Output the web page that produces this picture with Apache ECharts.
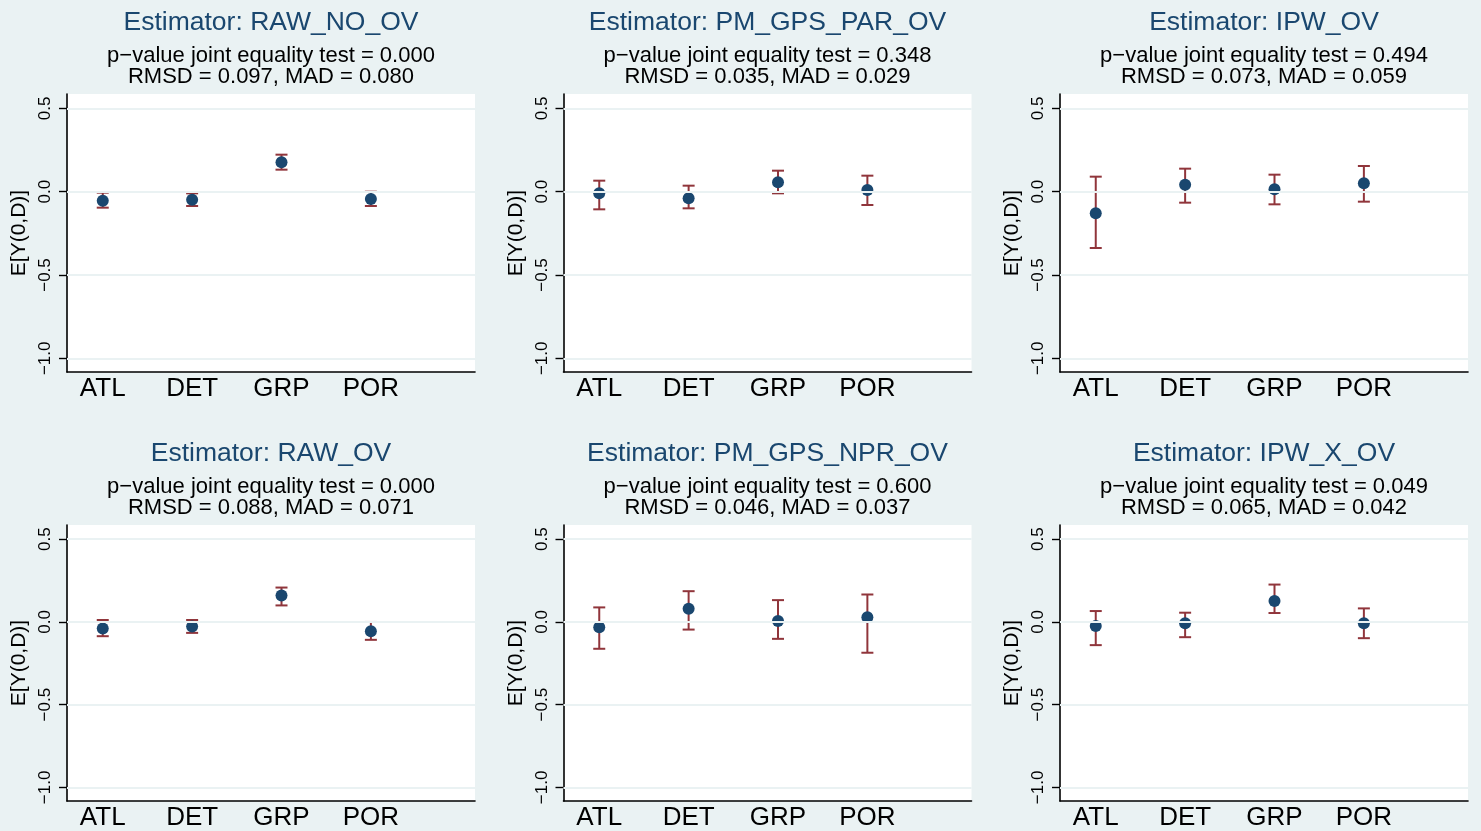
<!DOCTYPE html>
<html>
<head>
<meta charset="utf-8">
<script src="https://cdn.jsdelivr.net/npm/echarts@6/dist/echarts.min.js"></script>
<style>
  html, body { margin: 0; padding: 0; background: #eaf2f3; }
  #chart { width: 1481px; height: 831px; }
</style>
</head>
<body>
<div id="chart"></div>
<script>
// ---- data ----
const categories = ['ATL', 'DET', 'GRP', 'POR'];
const estimators = ['RAW_NO_OV', 'PM_GPS_PAR_OV', 'IPW_OV', 'RAW_OV', 'PM_GPS_NPR_OV', 'IPW_X_OV'];
const pValues = ['0.000', '0.348', '0.494', '0.000', '0.600', '0.049'];
const rmsdValues = ['0.097', '0.035', '0.073', '0.088', '0.046', '0.065'];
const madValues = ['0.080', '0.029', '0.059', '0.071', '0.037', '0.042'];
const yTickValues = [-1.0, -0.5, 0.0, 0.5];

const estRawNoOv = [-0.054, -0.048, 0.176, -0.044];
const loRawNoOv = [-0.096, -0.086, 0.132, -0.086];
const hiRawNoOv = [-0.006, -0.010, 0.222, 0.000];

const estPmGpsPar = [-0.010, -0.040, 0.056, 0.010];
const loPmGpsPar = [-0.106, -0.100, -0.010, -0.080];
const hiPmGpsPar = [0.066, 0.036, 0.126, 0.096];

const estIpw = [-0.130, 0.042, 0.014, 0.050];
const loIpw = [-0.338, -0.066, -0.076, -0.060];
const hiIpw = [0.090, 0.138, 0.102, 0.154];

const estRawOv = [-0.040, -0.028, 0.160, -0.056];
const loRawOv = [-0.086, -0.066, 0.100, -0.108];
const hiRawOv = [0.012, 0.012, 0.208, 0.000];

const estPmGpsNpr = [-0.032, 0.080, 0.006, 0.028];
const loPmGpsNpr = [-0.162, -0.046, -0.102, -0.186];
const hiPmGpsNpr = [0.088, 0.186, 0.132, 0.166];

const estIpwX = [-0.024, -0.008, 0.126, -0.008];
const loIpwX = [-0.140, -0.092, 0.054, -0.098];
const hiIpwX = [0.066, 0.056, 0.226, 0.082];

const panelEst = [estRawNoOv, estPmGpsPar, estIpw, estRawOv, estPmGpsNpr, estIpwX];
const panelLo = [loRawNoOv, loPmGpsPar, loIpw, loRawOv, loPmGpsNpr, loIpwX];
const panelHi = [hiRawNoOv, hiPmGpsPar, hiIpw, hiRawOv, hiPmGpsNpr, hiIpwX];

// ---- styling / layout ----
const FONT = 'Liberation Sans, Arial, Helvetica, sans-serif';
const BG = '#eaf2f3';
const TITLE_COLOR = '#1a476f';
const POINT_COLOR = '#1a476f';
const BAR_COLOR = '#90353b';
const gridLefts = [67, 563.5, 1060];
const gridTops = [94, 525];
const GRID_W = 408;
const GRID_H = 278;

const fmtNum = v => (v < 0 ? '\u2212' : '') + Math.abs(v).toFixed(1);

const grids = [], xAxes = [], yAxes = [], titles = [], series = [];
for (let i = 0; i < 6; i++) {
  const c = i % 3, r = Math.floor(i / 3);
  const left = gridLefts[c], top = gridTops[r];
  const cx = left + GRID_W / 2;
  grids.push({
    left: left, top: top, width: GRID_W, height: GRID_H,
    show: true, backgroundColor: '#ffffff', borderWidth: 0, containLabel: false
  });
  xAxes.push({
    type: 'value', gridIndex: i, min: 0.6, max: 5.165,
    axisLine: { show: true, onZero: false, lineStyle: { color: '#000', width: 1.6 } },
    axisTick: { show: false },
    splitLine: { show: false },
    axisLabel: {
      show: true, customValues: [1, 2, 3, 4], margin: 4,
      formatter: v => categories[Math.round(v) - 1] || '',
      color: '#000', fontSize: 26, fontFamily: FONT
    }
  });
  yAxes.push({
    type: 'value', gridIndex: i, min: -1.082, max: 0.586,
    name: 'E[Y(0,D)]', nameLocation: 'middle', nameRotate: 90, nameGap: 37,
    nameTextStyle: { color: '#000', fontSize: 21, fontFamily: FONT },
    axisLine: { show: true, onZero: false, lineStyle: { color: '#000', width: 1.6 } },
    axisTick: { show: true, customValues: yTickValues, length: 8, lineStyle: { color: '#000', width: 1.4 } },
    splitLine: { show: false },
    axisLabel: {
      show: true, customValues: yTickValues, rotate: 90, margin: 13,
      formatter: fmtNum, color: '#000', fontSize: 17, fontFamily: FONT
    }
  });
  titles.push({
    text: 'Estimator: ' + estimators[i],
    left: cx, top: 9 + r * 431, textAlign: 'center', padding: 0,
    textStyle: { color: TITLE_COLOR, fontSize: 26.5, fontWeight: 'normal', fontFamily: FONT }
  });
  titles.push({
    text: 'p\u2212value joint equality test = ' + pValues[i] + '\nRMSD = ' + rmsdValues[i] + ', MAD = ' + madValues[i],
    left: cx, top: 45 + r * 431, textAlign: 'center', padding: 0,
    textStyle: { color: '#000', fontSize: 22, lineHeight: 21, fontWeight: 'normal', fontFamily: FONT }
  });
  // grid lines
  series.push({
    type: 'line', xAxisIndex: i, yAxisIndex: i, data: [], z: 1, silent: true,
    markLine: {
      silent: true, symbol: 'none', animation: false,
      label: { show: false },
      lineStyle: { color: BG, width: 2, type: 'solid' },
      data: yTickValues.map(v => ({ yAxis: v }))
    }
  });
  // confidence intervals
  series.push({
    type: 'custom', xAxisIndex: i, yAxisIndex: i, z: 2, silent: true,
    encode: { x: 0, y: [1, 2] },
    data: categories.map((_, k) => [k + 1, panelLo[i][k], panelHi[i][k]]),
    renderItem: function (params, api) {
      const x = api.value(0);
      const top = api.coord([x, api.value(2)]);
      const bot = api.coord([x, api.value(1)]);
      const hw = 6;
      const st = { stroke: BAR_COLOR, lineWidth: 2 };
      return {
        type: 'group',
        children: [
          { type: 'line', shape: { x1: top[0], y1: top[1], x2: bot[0], y2: bot[1] }, style: st },
          { type: 'line', shape: { x1: top[0] - hw, y1: top[1], x2: top[0] + hw, y2: top[1] }, style: st },
          { type: 'line', shape: { x1: bot[0] - hw, y1: bot[1], x2: bot[0] + hw, y2: bot[1] }, style: st }
        ]
      };
    }
  });
  // point estimates
  series.push({
    type: 'scatter', xAxisIndex: i, yAxisIndex: i, z: 3, silent: true,
    symbol: 'circle', symbolSize: 12,
    itemStyle: { color: POINT_COLOR, opacity: 1 },
    data: categories.map((_, k) => [k + 1, panelEst[i][k]])
  });
}

const chart = echarts.init(document.getElementById('chart'), null, { renderer: 'canvas' });
chart.setOption({
  backgroundColor: BG,
  animation: false,
  title: titles,
  grid: grids,
  xAxis: xAxes,
  yAxis: yAxes,
  series: series
});
</script>
</body>
</html>
